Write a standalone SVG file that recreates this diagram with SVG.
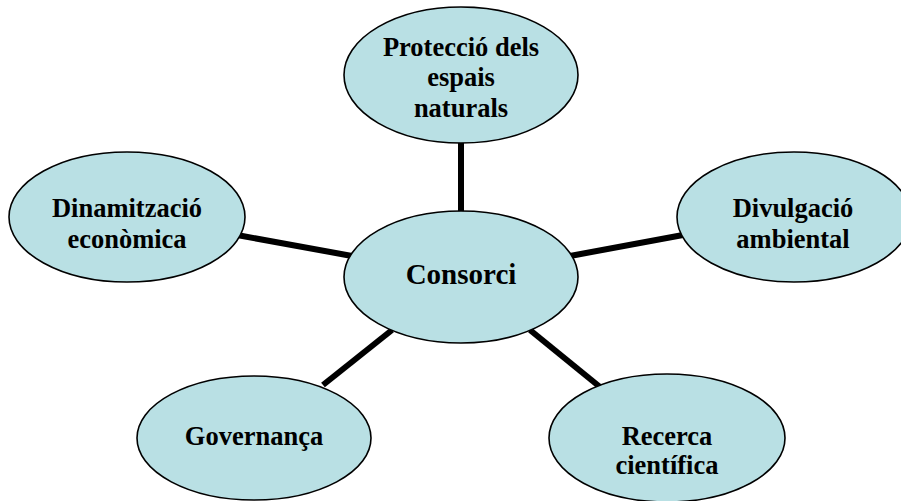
<svg xmlns="http://www.w3.org/2000/svg" width="901" height="501" viewBox="0 0 901 501">
<style>
.n ellipse{fill:#b9e0e4;stroke:#000;stroke-width:1.6}
.n text{font-family:"Liberation Serif","Times New Roman",serif;font-weight:bold;font-size:26.5px;fill:#000;text-anchor:middle}
.c line{stroke:#000;stroke-width:6}
</style>
<rect width="901" height="501" fill="#fff"/>
<g id="connectors" class="c">
<line x1="461" y1="140" x2="461" y2="215"/>
<line x1="237" y1="235" x2="352" y2="256"/>
<line x1="570" y1="256" x2="683" y2="235"/>
<line x1="392" y1="330" x2="323" y2="385"/>
<line x1="530" y1="330" x2="600" y2="387"/>
</g>
<g id="top" class="n">
<ellipse cx="461" cy="75" rx="117" ry="68"/>
<text x="461" y="56">Protecció dels</text>
<text x="461" y="86">espais</text>
<text x="461" y="117">naturals</text>
</g>
<g id="left" class="n">
<ellipse cx="127" cy="217" rx="118" ry="65"/>
<text x="127" y="217">Dinamització</text>
<text x="127" y="248">econòmica</text>
</g>
<g id="right" class="n">
<ellipse cx="794" cy="217" rx="117" ry="65"/>
<text x="793" y="217">Divulgació</text>
<text x="793" y="248">ambiental</text>
</g>
<g id="center" class="n">
<ellipse cx="461" cy="277" rx="117" ry="66"/>
<text x="461" y="284" style="font-size:29px">Consorci</text>
</g>
<g id="bottomleft" class="n">
<ellipse cx="254" cy="438" rx="117" ry="62"/>
<text x="254" y="445">Governança</text>
</g>
<g id="bottomright" class="n">
<ellipse cx="667" cy="438" rx="118" ry="64"/>
<text x="667" y="445">Recerca</text>
<text x="667" y="474">científica</text>
</g>
</svg>
